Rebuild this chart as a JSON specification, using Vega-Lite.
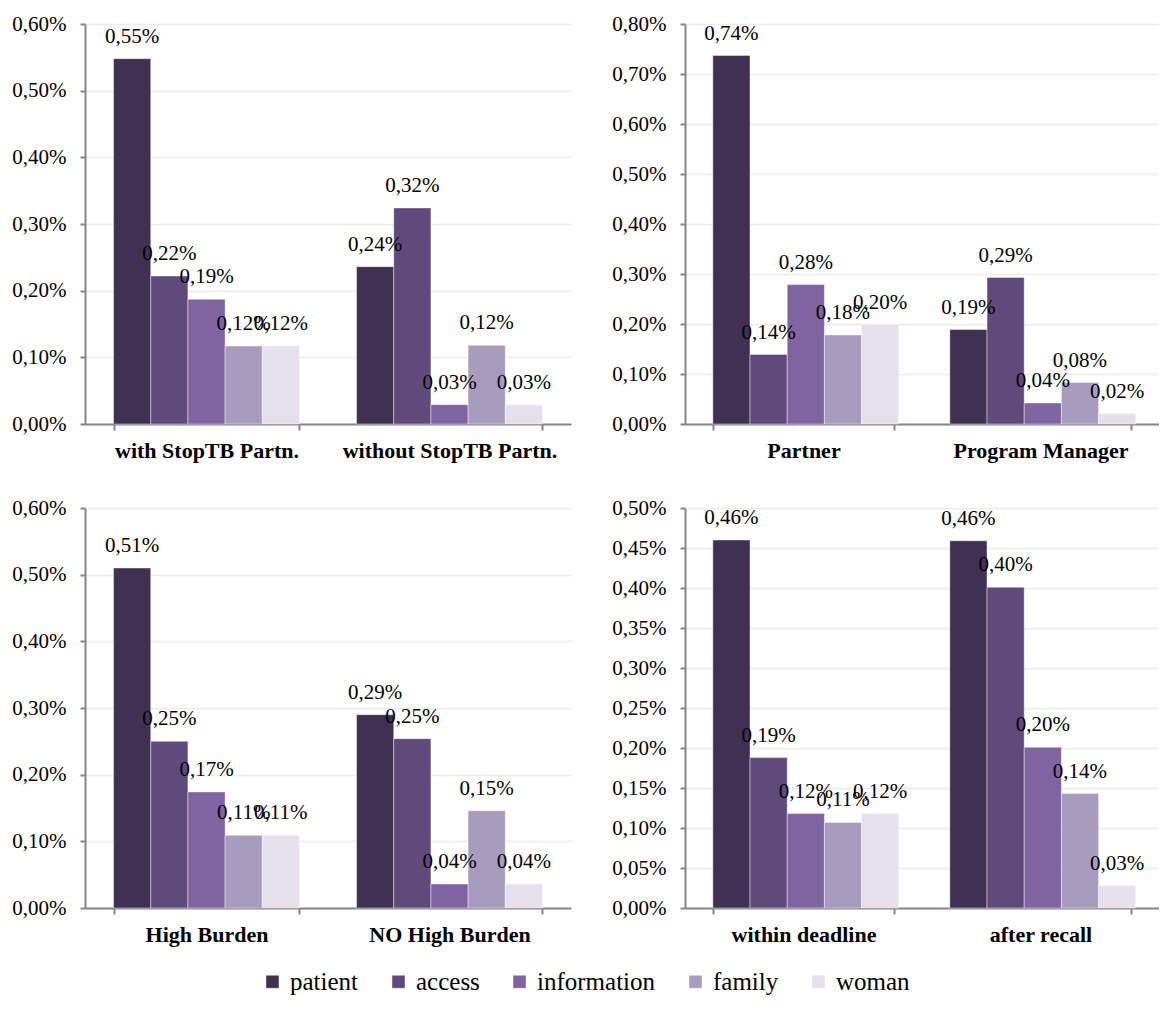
{
  "$schema": "https://vega.github.io/schema/vega-lite/v6.json",
  "padding": {"left": 11, "top": 13, "right": 0, "bottom": 0},
  "config": {
    "locale": {"number": {"decimal": ",", "thousands": ".", "grouping": [3], "currency": ["", " €"]}},
    "view": {"stroke": null},
    "axis": {"domainColor": "#868686", "domainWidth": 2, "tickColor": "#868686", "tickWidth": 2, "labelColor": "#000000", "title": null, "labelLimit": 0},
    "axisY": {"labelFontSize": 21, "tickSize": 5, "labelPadding": 14, "gridColor": "#ececec", "gridWidth": 1.5, "labelFont": "Times New Roman"},
    "axisX": {"labelFontSize": 22, "labelFontWeight": "bold", "labelAngle": 0, "tickBand": "extent", "tickSize": 6, "labelPadding": 10, "grid": false, "labelFont": "Times New Roman"},
    "legend": {"layout": {"bottom": {"anchor": "middle"}}},
    "bar": {"stroke": "#ffffff", "strokeWidth": 0.6, "strokeOpacity": 0.7},
    "text": {"fontSize": 21, "color": "#000000", "baseline": "alphabetic", "dy": -16, "font": "Times New Roman"}
  },
  "data": {"values": [
    {"panel": "A", "group": "with StopTB Partn.", "series": "patient", "value": 0.00548},
    {"panel": "A", "group": "with StopTB Partn.", "series": "access", "value": 0.00222},
    {"panel": "A", "group": "with StopTB Partn.", "series": "information", "value": 0.00187},
    {"panel": "A", "group": "with StopTB Partn.", "series": "family", "value": 0.00117},
    {"panel": "A", "group": "with StopTB Partn.", "series": "woman", "value": 0.00117},
    {"panel": "A", "group": "without StopTB Partn.", "series": "patient", "value": 0.00236},
    {"panel": "A", "group": "without StopTB Partn.", "series": "access", "value": 0.00324},
    {"panel": "A", "group": "without StopTB Partn.", "series": "information", "value": 0.00029},
    {"panel": "A", "group": "without StopTB Partn.", "series": "family", "value": 0.00118},
    {"panel": "A", "group": "without StopTB Partn.", "series": "woman", "value": 0.00029},
    {"panel": "B", "group": "Partner", "series": "patient", "value": 0.00737},
    {"panel": "B", "group": "Partner", "series": "access", "value": 0.00139},
    {"panel": "B", "group": "Partner", "series": "information", "value": 0.00279},
    {"panel": "B", "group": "Partner", "series": "family", "value": 0.00178},
    {"panel": "B", "group": "Partner", "series": "woman", "value": 0.00199},
    {"panel": "B", "group": "Program Manager", "series": "patient", "value": 0.00189},
    {"panel": "B", "group": "Program Manager", "series": "access", "value": 0.00293},
    {"panel": "B", "group": "Program Manager", "series": "information", "value": 0.00042},
    {"panel": "B", "group": "Program Manager", "series": "family", "value": 0.00083},
    {"panel": "B", "group": "Program Manager", "series": "woman", "value": 0.00021},
    {"panel": "C", "group": "High Burden", "series": "patient", "value": 0.0051},
    {"panel": "C", "group": "High Burden", "series": "access", "value": 0.0025},
    {"panel": "C", "group": "High Burden", "series": "information", "value": 0.00174},
    {"panel": "C", "group": "High Burden", "series": "family", "value": 0.00109},
    {"panel": "C", "group": "High Burden", "series": "woman", "value": 0.00109},
    {"panel": "C", "group": "NO High Burden", "series": "patient", "value": 0.0029},
    {"panel": "C", "group": "NO High Burden", "series": "access", "value": 0.00254},
    {"panel": "C", "group": "NO High Burden", "series": "information", "value": 0.00036},
    {"panel": "C", "group": "NO High Burden", "series": "family", "value": 0.00146},
    {"panel": "C", "group": "NO High Burden", "series": "woman", "value": 0.00036},
    {"panel": "D", "group": "within deadline", "series": "patient", "value": 0.0046},
    {"panel": "D", "group": "within deadline", "series": "access", "value": 0.00188},
    {"panel": "D", "group": "within deadline", "series": "information", "value": 0.00118},
    {"panel": "D", "group": "within deadline", "series": "family", "value": 0.00107},
    {"panel": "D", "group": "within deadline", "series": "woman", "value": 0.00118},
    {"panel": "D", "group": "after recall", "series": "patient", "value": 0.00459},
    {"panel": "D", "group": "after recall", "series": "access", "value": 0.00401},
    {"panel": "D", "group": "after recall", "series": "information", "value": 0.00201},
    {"panel": "D", "group": "after recall", "series": "family", "value": 0.00143},
    {"panel": "D", "group": "after recall", "series": "woman", "value": 0.00028}
  ]},
  "spacing": 36,
  "vconcat": [
    {
      "spacing": 40,
      "hconcat": [
        {
          "width": 486, "height": 400,
          "transform": [{"filter": "datum.panel === 'A'"}],
          "encoding": {
            "x": {"field": "group", "type": "nominal", "sort": ["with StopTB Partn.", "without StopTB Partn."], "scale": {"paddingInner": 0.235, "paddingOuter": 0.1175}},
            "xOffset": {"field": "series", "type": "nominal", "sort": ["patient", "access", "information", "family", "woman"]},
            "y": {"field": "value", "type": "quantitative", "scale": {"domain": [0, 0.006]}, "axis": {"values": [0, 0.001, 0.002, 0.003, 0.004, 0.005, 0.006], "format": ".2%"}}
          },
          "layer": [
            {"mark": {"type": "bar"}, "encoding": {"color": {"field": "series", "type": "nominal", "sort": ["patient", "access", "information", "family", "woman"], "scale": {"domain": ["patient", "access", "information", "family", "woman"], "range": ["#403152", "#604a7b", "#8064a2", "#a99bbd", "#e5e0ec"]}, "legend": {"orient": "bottom", "direction": "horizontal", "title": null, "symbolType": "square", "symbolSize": 169, "symbolStrokeWidth": 0, "labelFontSize": 25, "labelFont": "Times New Roman", "labelColor": "#000000", "labelOffset": 5, "columnPadding": 27, "offset": 24}}}},
            {"mark": {"type": "text"}, "encoding": {"text": {"field": "value", "type": "quantitative", "format": ".2%"}}}
          ]
        },
        {
          "width": 474, "height": 400,
          "transform": [{"filter": "datum.panel === 'B'"}],
          "encoding": {
            "x": {"field": "group", "type": "nominal", "sort": ["Partner", "Program Manager"], "scale": {"paddingInner": 0.235, "paddingOuter": 0.1175}},
            "xOffset": {"field": "series", "type": "nominal", "sort": ["patient", "access", "information", "family", "woman"]},
            "y": {"field": "value", "type": "quantitative", "scale": {"domain": [0, 0.008]}, "axis": {"values": [0, 0.001, 0.002, 0.003, 0.004, 0.005, 0.006, 0.007, 0.008], "format": ".2%"}}
          },
          "layer": [
            {"mark": {"type": "bar"}, "encoding": {"color": {"field": "series", "type": "nominal", "sort": ["patient", "access", "information", "family", "woman"]}}},
            {"mark": {"type": "text"}, "encoding": {"text": {"field": "value", "type": "quantitative", "format": ".2%"}}}
          ]
        }
      ]
    },
    {
      "spacing": 40,
      "hconcat": [
        {
          "width": 486, "height": 400,
          "transform": [{"filter": "datum.panel === 'C'"}],
          "encoding": {
            "x": {"field": "group", "type": "nominal", "sort": ["High Burden", "NO High Burden"], "scale": {"paddingInner": 0.235, "paddingOuter": 0.1175}},
            "xOffset": {"field": "series", "type": "nominal", "sort": ["patient", "access", "information", "family", "woman"]},
            "y": {"field": "value", "type": "quantitative", "scale": {"domain": [0, 0.006]}, "axis": {"values": [0, 0.001, 0.002, 0.003, 0.004, 0.005, 0.006], "format": ".2%"}}
          },
          "layer": [
            {"mark": {"type": "bar"}, "encoding": {"color": {"field": "series", "type": "nominal", "sort": ["patient", "access", "information", "family", "woman"]}}},
            {"mark": {"type": "text"}, "encoding": {"text": {"field": "value", "type": "quantitative", "format": ".2%"}}}
          ]
        },
        {
          "width": 474, "height": 400,
          "transform": [{"filter": "datum.panel === 'D'"}],
          "encoding": {
            "x": {"field": "group", "type": "nominal", "sort": ["within deadline", "after recall"], "scale": {"paddingInner": 0.235, "paddingOuter": 0.1175}},
            "xOffset": {"field": "series", "type": "nominal", "sort": ["patient", "access", "information", "family", "woman"]},
            "y": {"field": "value", "type": "quantitative", "scale": {"domain": [0, 0.005]}, "axis": {"values": [0, 0.0005, 0.001, 0.0015, 0.002, 0.0025, 0.003, 0.0035, 0.004, 0.0045, 0.005], "format": ".2%"}}
          },
          "layer": [
            {"mark": {"type": "bar"}, "encoding": {"color": {"field": "series", "type": "nominal", "sort": ["patient", "access", "information", "family", "woman"]}}},
            {"mark": {"type": "text"}, "encoding": {"text": {"field": "value", "type": "quantitative", "format": ".2%"}}}
          ]
        }
      ]
    }
  ]
}
